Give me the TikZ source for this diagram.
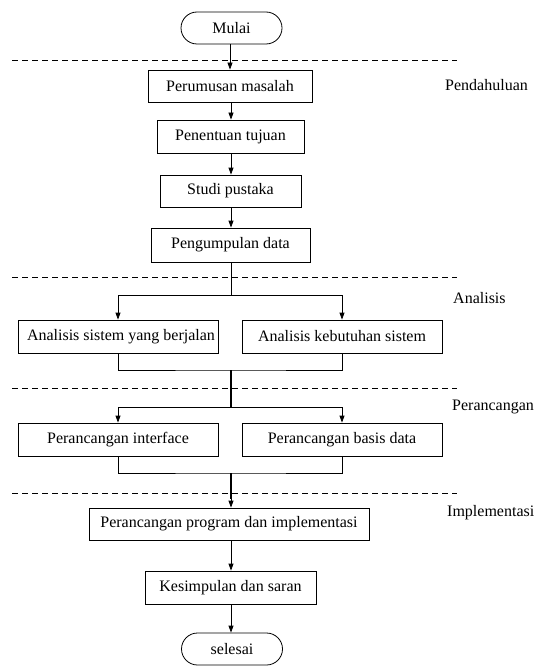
\documentclass[tikz,border=0pt]{standalone}
\usepackage{fontspec}
\setmainfont{Liberation Serif}
\usetikzlibrary{arrows.meta}
\begin{document}
\begin{tikzpicture}[x=1pt,y=-1pt,
  every node/.style={font=\fontsize{16}{19}\selectfont, inner sep=0pt},
  procbox/.style={draw, line width=0.8pt, minimum height=32pt},
  termbox/.style={draw, line width=0.8pt, rounded corners=16pt, minimum height=32pt, minimum width=101pt},
  phase/.style={anchor=west},
  sep/.style={dashed, dash pattern=on 6pt off 4pt, line width=0.8pt},
  flow/.style={line width=0.8pt, -{Triangle[length=7pt,width=5pt]}},
  link/.style={line width=0.8pt},
  trunk/.style={line width=1.6pt}
]
\useasboundingbox (0,0) rectangle (533,666);

% dashed phase separators
\coordinate (d1a) at (12,60);  \coordinate (d1b) at (457,60);
\coordinate (d2a) at (12,277); \coordinate (d2b) at (457,277);
\coordinate (d3a) at (12,388); \coordinate (d3b) at (457,388);
\coordinate (d4a) at (12,493); \coordinate (d4b) at (457,493);
\draw[sep] (d1a) -- (d1b);
\draw[sep] (d2a) -- (d2b);
\draw[sep] (d3a) -- (d3b);
\draw[sep] (d4a) -- (d4b);

% nodes
\node[termbox] (mulai) at (231.5,28) {Mulai};
\node[procbox, minimum width=164pt] (p1) at (230,86) {Perumusan masalah};
\node[procbox, minimum width=147pt, minimum height=33pt] (p2) at (230.5,136.5) {Penentuan tujuan};
\node[procbox, minimum width=141pt] (p3) at (230.5,191) {Studi pustaka};
\node[procbox, minimum width=159pt, minimum height=34pt] (p4) at (230.5,245) {Pengumpulan data};
\node[procbox, minimum width=200pt, minimum height=33pt] (a1) at (118,336.5) {\hspace*{6pt}Analisis sistem yang berjalan};
\node[procbox, minimum width=200pt, minimum height=33pt] (a2) at (342,336.5) {Analisis kebutuhan sistem};
\node[procbox, minimum width=200pt, minimum height=33pt] (r1) at (118,439.5) {Perancangan interface};
\node[procbox, minimum width=200pt, minimum height=33pt] (r2) at (342,439.5) {Perancangan basis data};
\node[procbox, minimum width=280pt] (i1) at (229,524) {Perancangan program dan implementasi};
\node[procbox, minimum width=171pt, minimum height=33pt] (i2) at (230.5,587.5) {Kesimpulan dan saran};
\node[termbox] (selesai) at (232,649) {selesai};

% phase labels
\node[phase] (lp1) at (445,85) {Pendahuluan};
\node[phase] (lp2) at (453,298) {Analisis};
\node[phase] (lp3) at (452,407) {Perancangan};
\node[phase] (lp4) at (447,513) {Implementasi};

% junction points
\coordinate (b1) at (231,295);
\coordinate (m1) at (231,370);
\coordinate (b2) at (231,407);
\coordinate (m2) at (231,473);
\coordinate (k) at (231,499);

% connectors
\draw[flow] (mulai.south -| p1.north) -- (p1.north);
\draw[flow] (p1.south -| k) -- (p2.north -| k);
\draw[flow] (p2.south -| k) -- (p3.north -| k);
\draw[flow] (p3.south -| k) -- (p4.north -| k);
\draw[link] (p4.south -| b1) -- (b1);
\draw[flow] (b1) -| (a1.north);
\draw[flow] (b1) -| (a2.north);
\draw[link] (a1.south) |- (m1) -| (a2.south);
\draw[trunk] (m1) -- (b2);
\draw[flow] (b2) -| (r1.north);
\draw[flow] (b2) -| (r2.north);
\draw[link] (r1.south) |- (m2) -| (r2.south);
\draw[trunk] (m2) -- (k);
\draw[flow] (k) -- (k |- i1.north);
\draw[flow] (i1.south -| k) -- (i2.north -| k);
\draw[flow] (i2.south -| k) -- (selesai.north -| k);
\end{tikzpicture}
\end{document}
